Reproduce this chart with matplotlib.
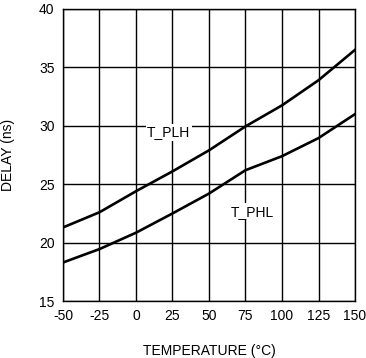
import matplotlib
matplotlib.use("Agg")
import matplotlib.pyplot as plt

# temperature sweep (deg C) and propagation delays (ns)
temp = [-50, -25, 0, 25, 50, 75, 100, 125, 150]
t_plh = [21.3, 22.6, 24.4, 26.1, 27.9, 29.95, 31.75, 33.9, 36.5]
t_phl = [18.3, 19.45, 20.85, 22.5, 24.2, 26.2, 27.4, 28.95, 31.0]

x_ticks = [-50, -25, 0, 25, 50, 75, 100, 125, 150]
y_ticks = [15, 20, 25, 30, 35, 40]

plt.rcParams['font.family'] = ['Liberation Sans', 'DejaVu Sans']
plt.rcParams['axes.unicode_minus'] = False

fig = plt.figure(figsize=(3.66, 3.58), dpi=100)
ax = fig.add_axes([0.172, 0.159, 0.798, 0.816])

ax.plot(temp, t_plh, color='black', lw=1.9, zorder=3)
ax.plot(temp, t_phl, color='black', lw=1.9, zorder=3)

ax.set_xlim(-50, 150)
ax.set_ylim(15, 40)
ax.set_xticks(x_ticks)
ax.set_yticks(y_ticks)
ax.grid(True, color='black', lw=1.0, zorder=1)
ax.set_axisbelow(True)
ax.tick_params(length=0, labelsize=10, pad=6)
for s in ax.spines.values():
    s.set_linewidth(1.0)

box = dict(facecolor='white', edgecolor='none', pad=1.0)
ax.text(22.5, 29.45, 'T_PLH', fontsize=10, ha='center', va='center', bbox=box, zorder=4)
ax.text(80, 22.65, 'T_PHL', fontsize=10, ha='center', va='center', bbox=box, zorder=4)

ax.set_xlabel('TEMPERATURE (°C)', fontsize=10, labelpad=15)
ax.set_ylabel('DELAY (ns)', fontsize=10, labelpad=17)

fig.savefig('out.png', dpi=100)
